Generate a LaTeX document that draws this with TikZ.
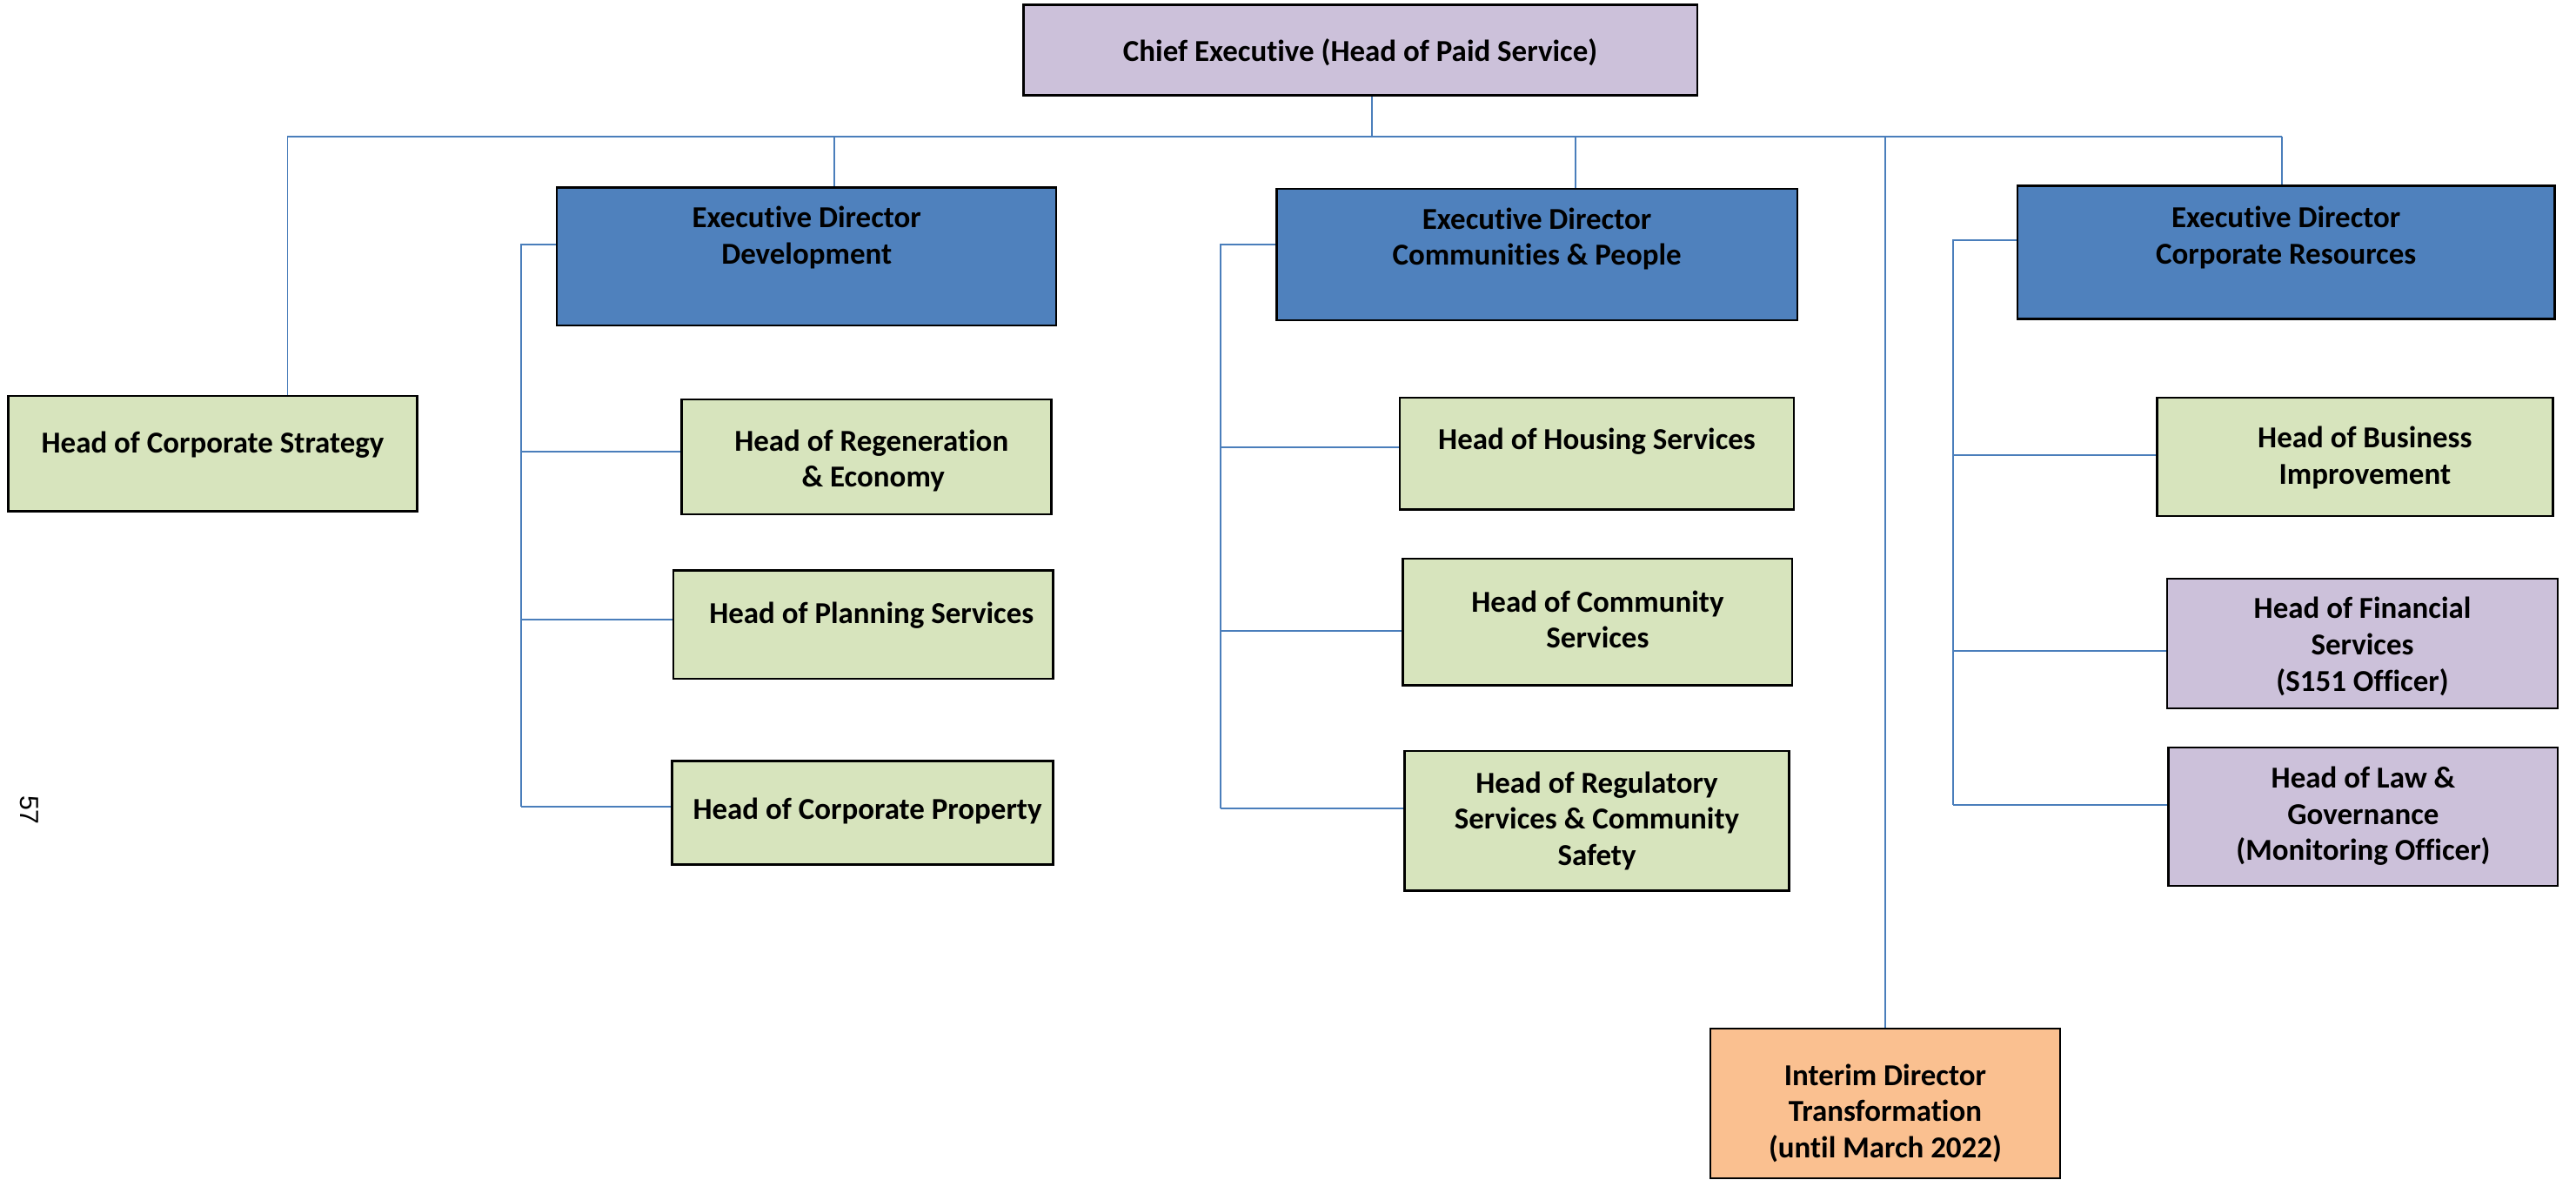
\documentclass[tikz,border=0pt]{standalone}
\usepackage{fontspec}
\setmainfont{Carlito}[Ligatures=NoCommon]
\newfontfamily\pnumfont{Liberation Sans}
\definecolor{cepurple}{HTML}{CCC1DA}
\definecolor{edblue}{HTML}{4F81BD}
\definecolor{hdgreen}{HTML}{D7E4BD}
\definecolor{itorange}{HTML}{FAC090}
\definecolor{connblue}{HTML}{4A7EBB}
\begin{document}
\begin{tikzpicture}[x=1pt,y=-1pt,
  orgbox/.style={draw=black,line width=1.3pt,inner sep=0pt,align=center,
    font=\fontsize{18.5}{22}\selectfont\bfseries},
  greenbox/.style={orgbox,fill=hdgreen},
  bluebox/.style={orgbox,fill=edblue},
  purplebox/.style={orgbox,fill=cepurple},
  orangebox/.style={orgbox,fill=itorange},
  conn/.style={draw=connblue,line width=1pt}]
\useasboundingbox (0,0) rectangle (1568,718);
% boxes
\node[purplebox,minimum width=410pt,minimum height=55pt,text height=14pt,text depth=0pt] (ce) at (828,30.5) {Chief Executive (Head of Paid Service)};
\node[greenbox,minimum width=249pt,minimum height=70pt,text height=12pt,text depth=13pt] (strat) at (129.5,276) {Head of Corporate Strategy};
\node[bluebox,minimum width=304pt,minimum height=84pt,text height=12pt,text depth=3pt] (dev) at (491,156) {Executive Director\\Development};
\node[greenbox,minimum width=225pt,minimum height=70pt,text height=37pt,text depth=0pt] (regen) at (527.5,278) {\hspace*{6pt}Head of Regeneration\\\hspace*{8pt}\& Economy};
\node[greenbox,minimum width=231pt,minimum height=66pt,text height=12pt,text depth=13pt] (plan) at (525.5,380) {\hspace*{10pt}Head of Planning Services};
\node[greenbox,minimum width=232pt,minimum height=63pt,text height=12pt,text depth=4pt] (prop) at (525,494.5) {\hspace*{6pt}Head of Corporate Property};
\node[bluebox,minimum width=317pt,minimum height=80pt,text height=13pt,text depth=0pt] (comm) at (935.5,155) {Executive Director\\Communities \& People};
\node[greenbox,minimum width=240pt,minimum height=68pt,text height=12pt,text depth=17pt] (house) at (972,276) {Head of Housing Services};
\node[greenbox,minimum width=237pt,minimum height=77pt,text height=32pt,text depth=0pt] (cserv) at (972.5,378.5) {Head of Community\\Services};
\node[greenbox,minimum width=234pt,minimum height=85pt,text height=54pt,text depth=0pt] (reg) at (972,499.5) {Head of Regulatory\\Services \& Community\\Safety};
\node[orangebox,minimum width=213pt,minimum height=91pt,text height=66pt,text depth=0pt] (interim) at (1147.5,671.5) {Interim Director\\Transformation\\(until March 2022)};
\node[bluebox,minimum width=327pt,minimum height=81pt,text height=14pt,text depth=0pt] (cr) at (1391.5,153.5) {Executive Director\\Corporate Resources};
\node[greenbox,minimum width=241pt,minimum height=72pt,text height=33pt,text depth=0pt] (bi) at (1433.5,278) {\hspace*{12pt}Head of Business\\\hspace*{12pt}Improvement};
\node[purplebox,minimum width=238pt,minimum height=79pt,text height=58pt,text depth=0pt] (fin) at (1438,391.5) {Head of Financial\\Services\\(S151 Officer)};
\node[purplebox,minimum width=237pt,minimum height=84pt,text height=53pt,text depth=0pt] (law) at (1438.5,497) {Head of Law \&\\Governance\\(Monitoring Officer)};
% page number
\node[font=\pnumfont\fontsize{16}{18}\selectfont,rotate=-90,inner sep=0pt] (pnum) at (18,493) {57};
% top bus
\coordinate (cedrop) at (835,83);
\coordinate (busl) at (175,83);
\coordinate (busr) at (1389,83);
\coordinate (bdev) at (508,83);
\coordinate (bcom) at (959,83);
\draw[conn] (cedrop) -- (cedrop |- ce.south);
\draw[conn] (busl) -- (busr);
\draw[conn] (busl) -- (busl |- strat.north);
\draw[conn] (bdev) -- (bdev |- dev.north);
\draw[conn] (bcom) -- (bcom |- comm.north);
\draw[conn] (interim.north) -- (interim.north |- busl);
\draw[conn] (busr) -- (busr |- cr.north);
% development bracket
\coordinate (dv0) at (317,149);
\coordinate (dv1) at (317,275);
\coordinate (dv2) at (317,377);
\coordinate (dv3) at (317,491);
\draw[conn] (dv0 -| dev.west) -- (dv0) -- (dv3);
\draw[conn] (dv1) -- (dv1 -| regen.west);
\draw[conn] (dv2) -- (dv2 -| plan.west);
\draw[conn] (dv3) -- (dv3 -| prop.west);
% communities bracket
\coordinate (cm0) at (743,149);
\coordinate (cm1) at (743,272);
\coordinate (cm2) at (743,384);
\coordinate (cm3) at (743,492);
\draw[conn] (cm0 -| comm.west) -- (cm0) -- (cm3);
\draw[conn] (cm1) -- (cm1 -| house.west);
\draw[conn] (cm2) -- (cm2 -| cserv.west);
\draw[conn] (cm3) -- (cm3 -| reg.west);
% corporate resources bracket
\coordinate (cr0) at (1189,146);
\coordinate (cr1) at (1189,277);
\coordinate (cr2) at (1189,396);
\coordinate (cr3) at (1189,490);
\draw[conn] (cr0 -| cr.west) -- (cr0) -- (cr3);
\draw[conn] (cr1) -- (cr1 -| bi.west);
\draw[conn] (cr2) -- (cr2 -| fin.west);
\draw[conn] (cr3) -- (cr3 -| law.west);
\end{tikzpicture}
\end{document}
